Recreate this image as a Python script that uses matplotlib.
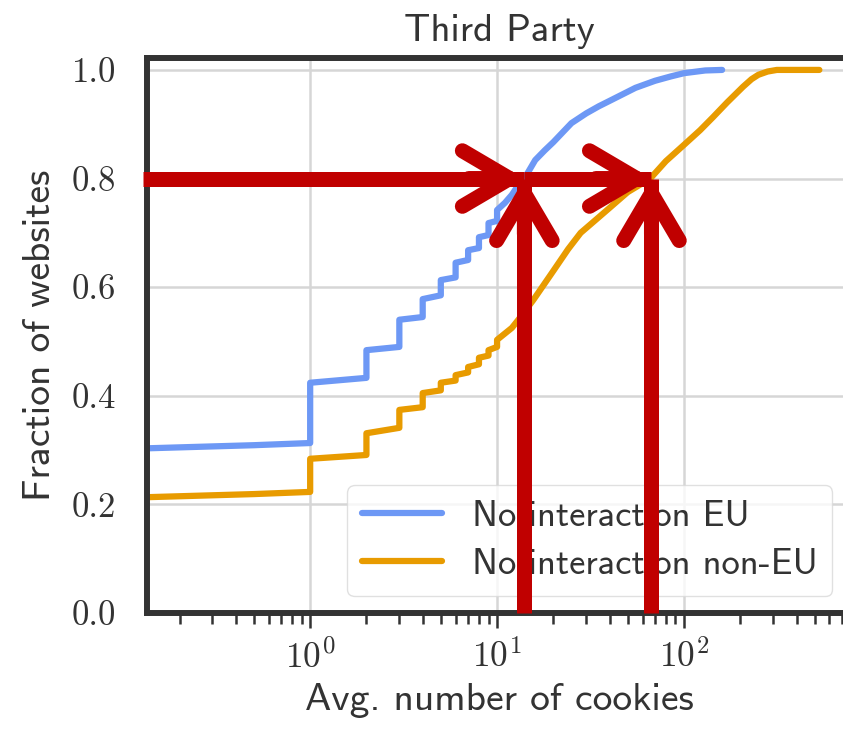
import numpy as np
import matplotlib
matplotlib.use("Agg")
import matplotlib.pyplot as plt
from matplotlib.ticker import FuncFormatter, LogLocator, NullFormatter

# ECDF of average third-party cookies per site (repeated x = step jump)
eu_x = [0.1, 0.2, 0.5, 1, 1, 2, 2, 3, 3, 4, 4, 5, 5, 6, 6, 7, 7, 8, 8, 9, 9, 10, 10,
        11, 12, 13, 14, 16, 18, 20, 25, 30, 35, 40, 55, 70, 85, 100, 130, 160]
eu_y = [0.302, 0.305, 0.309, 0.313, 0.424, 0.433, 0.484, 0.49, 0.54, 0.545, 0.578,
        0.585, 0.613, 0.618, 0.645, 0.65, 0.668, 0.672, 0.692, 0.696, 0.718, 0.722,
        0.742, 0.755, 0.77, 0.788, 0.80, 0.834, 0.852, 0.867, 0.902, 0.92, 0.933,
        0.943, 0.967, 0.98, 0.988, 0.994, 0.999, 1.0]

noneu_x = [0.1, 0.2, 0.5, 1, 1, 2, 2, 3, 3, 4, 4, 5, 5, 6, 6, 7, 7, 8, 8, 9, 9, 10, 10,
           12, 13, 15.6, 20, 24, 28, 34, 40, 50, 66, 80, 100, 122, 143, 170, 207, 230,
           250, 280, 314, 530]
noneu_y = [0.212, 0.215, 0.219, 0.223, 0.284, 0.291, 0.331, 0.341, 0.374, 0.379, 0.405,
           0.41, 0.424, 0.428, 0.438, 0.443, 0.453, 0.458, 0.47, 0.474, 0.484, 0.49,
           0.503, 0.525, 0.54, 0.576, 0.63, 0.67, 0.70, 0.725, 0.746, 0.775, 0.80,
           0.832, 0.862, 0.889, 0.913, 0.94, 0.969, 0.983, 0.991, 0.997, 1.0, 1.0]

labels = ["No interaction EU", "No interaction non-EU"]
colors = ["#6d98f5", "#e89b00"]

# 80% of websites: where each curve crosses it
frac_level = 0.8
x80_eu = 14
x80_noneu = 67

sans = "cmss10"
red = "#c00000"
dark = "#333333"
plt.rcParams["mathtext.fontset"] = "cm"

fig = plt.figure(figsize=(8.43, 7.31), dpi=100)
ax = fig.add_axes([0.1744, 0.1614, 0.835, 0.7593])

ax.plot(eu_x, eu_y, color=colors[0], lw=4.5, label=labels[0], solid_capstyle="round")
ax.plot(noneu_x, noneu_y, color=colors[1], lw=4.5, label=labels[1], solid_capstyle="round")

ax.set_xscale("log")
ax.set_xlim(0.134, 782)
ax.set_ylim(0, 1.022)
ax.set_yticks([0.0, 0.2, 0.4, 0.6, 0.8, 1.0])
ax.set_yticklabels(["%.1f" % v for v in ax.get_yticks()], fontfamily="cmr10", fontsize=25, color=dark)

ax.xaxis.set_major_locator(LogLocator(base=10, numticks=10))
ax.xaxis.set_minor_locator(LogLocator(base=10, subs=np.arange(2, 10), numticks=20))
ax.xaxis.set_major_formatter(FuncFormatter(lambda v, p: r"$\mathrm{10^{%d}}$" % round(np.log10(v))))
ax.xaxis.set_minor_formatter(NullFormatter())

ax.tick_params(axis="x", which="major", length=11, width=1.8, color=dark, pad=8,
               labelsize=25.5, labelcolor=dark)
ax.tick_params(axis="x", which="minor", length=8, width=1.8, color=dark)
ax.tick_params(axis="y", which="both", length=0, pad=22)

ax.grid(True, which="major", color="#d6d6d6", lw=1.8)
ax.set_axisbelow(True)
for s in ax.spines.values():
    s.set_color(dark)
    s.set_linewidth(4.3)

ax.set_title("Third Party", fontfamily=sans, fontsize=28, color=dark, pad=12)
ax.set_xlabel("Avg. number of cookies", fontfamily=sans, fontsize=28.5, color=dark, labelpad=6)
ax.set_ylabel("Fraction of websites", fontfamily=sans, fontsize=28.5, color=dark, labelpad=10)

leg = ax.legend(loc="lower right", bbox_to_anchor=(0.973, 0.031), borderaxespad=0,
                prop={"family": sans, "size": 26.3}, handlelength=2.2, handletextpad=0.8,
                labelspacing=0.42, framealpha=0.8, edgecolor="#d9d9d9", fancybox=True)
for t in leg.get_texts():
    t.set_color(dark)

# red guide arrows: shafts with flat ends, open heads with rounded ends
arrow_lw = 10.8
shafts = [([0.128, x80_eu], [frac_level, frac_level]),
          ([x80_eu, x80_noneu], [frac_level, frac_level]),
          ([x80_eu, x80_eu], [0, frac_level]),
          ([x80_noneu, x80_noneu], [0, frac_level])]
for xs, ys in shafts:
    ax.plot(xs, ys, color=red, lw=arrow_lw, solid_capstyle="butt", clip_on=False, zorder=7)

heads = [((x80_eu, frac_level), (-40, 0)), ((x80_noneu, frac_level), (-40, 0)),
         ((x80_eu, frac_level), (0, -40)), ((x80_noneu, frac_level), (0, -40))]
for tip, off in heads:
    ax.annotate("", xy=tip, xytext=off, textcoords="offset points",
                arrowprops=dict(arrowstyle="->,head_length=3.4,head_width=2.0",
                                mutation_scale=10, color=red, lw=arrow_lw,
                                capstyle="round", joinstyle="round",
                                shrinkA=0, shrinkB=0),
                zorder=8)

fig.savefig("out.png", dpi=100)
